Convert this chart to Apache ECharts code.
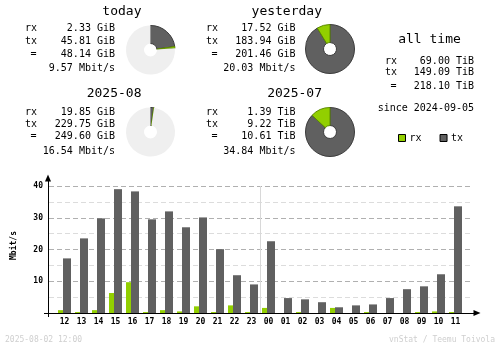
<!DOCTYPE html>
<html>
<head>
<meta charset="utf-8">
<script src="https://cdn.jsdelivr.net/npm/echarts@6/dist/echarts.min.js"></script>
<style>
html, body { margin: 0; padding: 0; background: #ffffff; }
#chart { width: 500px; height: 348px; }
</style>
</head>
<body>
<div id="chart"></div>
<script>
// Hourly average rates over the last 24 hours (Mbit/s)
const hours = ['12','13','14','15','16','17','18','19','20','21','22','23',
               '00','01','02','03','04','05','06','07','08','09','10','11'];
const rxRate = [0.9, 0.3, 0.9, 6.3, 9.7, 0.3, 0.9, 0.5, 2.1, 0.3, 2.4, 0.3,
                1.6, 0, 0.3, 0, 1.6, 0, 0.3, 0, 0, 0.3, 0.5, 0.3];
const txRate = [17.2, 23.5, 29.8, 39.0, 38.3, 29.5, 32.0, 27.0, 30.1, 20.1, 11.9, 9.0,
                22.6, 4.7, 4.3, 3.4, 1.8, 2.4, 2.7, 4.7, 7.5, 8.4, 12.2, 33.6];
const yLabels = [10, 20, 30, 40];

// Summary periods
const periodNames = ['today', 'yesterday', '2025-08', '2025-07'];
const periodRx    = [2.33, 17.52, 19.85, 1.39];
const periodTx    = [45.81, 183.94, 229.75, 9.22];
const periodTotal = [48.14, 201.46, 249.60, 10.61];
const periodUnit  = ['GiB', 'GiB', 'GiB', 'TiB'];
const periodRate  = [9.57, 20.03, 16.54, 34.84];
// each running period is shown against the completed one before it
const comparedTo  = [1, -1, 3, -1];

const allTimeRx = 69.00;
const allTimeTx = 149.09;
const allTimeTotal = 218.10;
const allTimeUnit = 'TiB';
const sinceDate = '2024-09-05';
const stampText = '2025-08-02 12:00';
const creditText = 'vnStat / Teemu Toivola';

const RX_COLOR = '#92cf00';
const TX_COLOR = '#606060';
const REST_COLOR = '#efefef';
const MONO = '"DejaVu Sans Mono", "Liberation Mono", monospace';

const toGiB = (v, unit) => unit === 'TiB' ? v * 1024 : v;
const fmt = (v, unit) => v.toFixed(2) + ' ' + unit;

// Placement of each summary block
const blocks = [
  { titleRight: 141.5, titleY: 11.5, labelX: 25,  valueRight: 115,   rows: [28.5, 41, 54, 68.5],   pie: [150.5, 50] },
  { titleRight: 322,   titleY: 11.5, labelX: 206, valueRight: 295.5, rows: [28.5, 41, 54, 68.5],   pie: [330, 49] },
  { titleRight: 141.5, titleY: 94,   labelX: 25,  valueRight: 115,   rows: [112.5, 124, 136.5, 151], pie: [150.5, 132] },
  { titleRight: 322,   titleY: 94,   labelX: 206, valueRight: 295.5, rows: [112.5, 124, 136.5, 151], pie: [330, 132] }
];

function text(x, y, str, opts) {
  return {
    type: 'text', x: x, y: y, silent: true,
    style: Object.assign({
      text: str, font: '10px ' + MONO, fill: '#000000',
      align: 'left', verticalAlign: 'middle'
    }, opts || {})
  };
}

const graphics = [];
const pies = [];

periodNames.forEach(function (name, i) {
  const b = blocks[i];
  graphics.push(text(b.titleRight, b.titleY, name, { font: '13px ' + MONO, align: 'right' }));
  graphics.push(text(b.labelX, b.rows[0], 'rx'));
  graphics.push(text(b.labelX, b.rows[1], 'tx'));
  graphics.push(text(b.labelX + 8.5, b.rows[2], '=', { align: 'center' }));
  graphics.push(text(b.valueRight, b.rows[0], fmt(periodRx[i], periodUnit[i]), { align: 'right' }));
  graphics.push(text(b.valueRight, b.rows[1], fmt(periodTx[i], periodUnit[i]), { align: 'right' }));
  graphics.push(text(b.valueRight, b.rows[2], fmt(periodTotal[i], periodUnit[i]), { align: 'right' }));
  graphics.push(text(b.valueRight, b.rows[3], periodRate[i].toFixed(2) + ' Mbit/s', { align: 'right' }));

  const c = comparedTo[i];
  const rest = c < 0 ? 0 :
    Math.max(0, toGiB(periodTotal[c], periodUnit[c]) - toGiB(periodTotal[i], periodUnit[i]));
  pies.push({
    type: 'pie',
    silent: true,
    animation: false,
    center: b.pie,
    radius: [6.5, 24.5],
    startAngle: 90,
    clockwise: true,
    label: { show: false },
    labelLine: { show: false },
    emphasis: { disabled: true },
    itemStyle: { borderColor: '#3c3c3c', borderWidth: 1 },
    data: [
      { value: toGiB(periodTx[i], periodUnit[i]), itemStyle: { color: TX_COLOR } },
      { value: toGiB(periodRx[i], periodUnit[i]), itemStyle: { color: RX_COLOR, borderColor: '#5c8a00' } },
      { value: rest, itemStyle: { color: REST_COLOR, borderWidth: 0 } }
    ]
  });
});

// All-time totals
graphics.push(text(429.5, 39.5, 'all time', { font: '13px ' + MONO, align: 'center' }));
graphics.push(text(385, 61.5, 'rx'));
graphics.push(text(385, 72.5, 'tx'));
graphics.push(text(393.5, 86.5, '=', { align: 'center' }));
graphics.push(text(474, 61.5, fmt(allTimeRx, allTimeUnit), { align: 'right' }));
graphics.push(text(474, 72.5, fmt(allTimeTx, allTimeUnit), { align: 'right' }));
graphics.push(text(474, 86.5, fmt(allTimeTotal, allTimeUnit), { align: 'right' }));
graphics.push(text(474, 108, 'since ' + sinceDate, { align: 'right' }));

// Footer
graphics.push(text(5, 340, stampText, { font: '8px ' + MONO, fill: '#cfcfcf' }));
graphics.push(text(495, 340, creditText, { font: '8px ' + MONO, fill: '#cfcfcf', align: 'right' }));

const axisFont = { fontFamily: MONO, fontSize: 8, fontWeight: 'bold', color: '#000000' };
const dayStart = hours.indexOf('00');

const option = {
  backgroundColor: '#ffffff',
  animation: false,
  textStyle: { fontFamily: MONO },
  legend: {
    left: 398, top: 133, padding: 0,
    itemWidth: 7, itemHeight: 7, itemGap: 18,
    icon: 'rect',
    selectedMode: false,
    data: ['rx', 'tx'],
    itemStyle: { borderColor: '#000000', borderWidth: 1 },
    textStyle: { fontFamily: MONO, fontSize: 10, color: '#000000', padding: [0, 0, 0, -1] }
  },
  grid: [
    { left: 48, right: 23, top: 178, bottom: 35 },   // axis frame
    { left: 49, right: 27, top: 186, bottom: 35 },   // guide lines
    { left: 56, right: 36, top: 186, bottom: 35 }    // bars
  ],
  xAxis: [
    {
      gridIndex: 0, type: 'value', min: 0, max: 1, z: 5,
      axisLine: { show: true, symbol: ['none', 'triangle'], symbolSize: [6, 7], lineStyle: { color: '#000000', width: 1 } },
      axisTick: { show: true, customValues: [0], length: 4, lineStyle: { color: '#000000' } },
      axisLabel: { show: false },
      splitLine: { show: false }
    },
    { gridIndex: 1, type: 'value', min: 0, max: 1, show: false },
    {
      gridIndex: 2, type: 'category', data: hours, boundaryGap: true, position: 'bottom',
      axisLine: { show: false },
      axisTick: { show: false },
      axisLabel: Object.assign({ margin: 5, interval: 0 }, axisFont),
      splitLine: { show: false }
    },
    {
      // midnight marker: a full-height tick at the start of the new day
      gridIndex: 2, type: 'value', min: 0, max: hours.length, position: 'top',
      axisLine: { show: false },
      axisLabel: { show: false },
      splitLine: { show: false },
      axisTick: { show: true, inside: true, customValues: [dayStart], length: 127, lineStyle: { color: '#d8d8d8', width: 1 } }
    }
  ],
  yAxis: [
    {
      gridIndex: 0, type: 'value', min: 0, max: 1, z: 5,
      axisLine: { show: true, symbol: ['none', 'triangle'], symbolSize: [6, 7], lineStyle: { color: '#000000', width: 1 } },
      axisTick: { show: true, customValues: [0], length: 4, lineStyle: { color: '#000000' } },
      axisLabel: { show: false },
      splitLine: { show: false },
      name: 'Mbit/s',
      nameLocation: 'middle',
      nameRotate: 90,
      nameGap: 30,
      nameTextStyle: axisFont
    },
    {
      gridIndex: 1, type: 'value', min: 0, max: 40, interval: 5,
      axisLine: { show: false },
      axisTick: { show: false },
      axisLabel: Object.assign({
        margin: 6,
        formatter: function (v) { return yLabels.indexOf(v) >= 0 ? String(v) : ''; }
      }, axisFont),
      splitLine: { show: true, lineStyle: { type: [5, 3], width: 1, color: ['#b0b0b0', '#dcdcdc'] } }
    },
    { gridIndex: 2, type: 'value', min: 0, max: 40, show: false }
  ],
  series: [
    {
      name: 'rx', type: 'bar', xAxisIndex: 2, yAxisIndex: 2,
      data: rxRate, barWidth: 5, barGap: '0%',
      itemStyle: { color: RX_COLOR }, silent: true
    },
    {
      name: 'tx', type: 'bar', xAxisIndex: 2, yAxisIndex: 2,
      data: txRate, barWidth: 8, barGap: '0%',
      itemStyle: { color: TX_COLOR }, silent: true
    }
  ].concat(pies),
  graphic: graphics
};

const chart = echarts.init(document.getElementById('chart'), null, { renderer: 'canvas' });
chart.setOption(option);
</script>
</body>
</html>
